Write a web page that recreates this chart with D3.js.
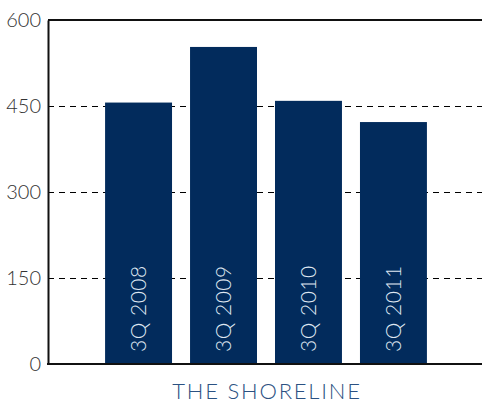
<!DOCTYPE html>
<html><head><meta charset="utf-8">
<script src="https://cdn.jsdelivr.net/npm/d3@7"></script>
<style>body{margin:0;background:#fff}svg{display:block}</style>
</head><body><svg id="c" width="482" height="404"></svg>
<script>
const categories = ["3Q 2008","3Q 2009","3Q 2010","3Q 2011"];
const values = [456, 553, 459, 422];
const yTicks = [0,150,300,450,600];
const title = "THE SHORELINE";

(function(){
const svg = d3.select("#c");
const mL = 48, mR = 482, mT = 20, mB = 364;
const x = d3.scaleBand().domain(categories).range([mL+1, mR+1]).paddingInner(0.212).paddingOuter(0.66);
const y = d3.scaleLinear().domain([0,600]).range([mB, mT]);

// gridlines
svg.append("g").selectAll("line").data(yTicks.filter(t=>t>0 && t<600)).join("line")
  .attr("x1", mL).attr("x2", mR)
  .attr("y1", d=>y(d)+0.5).attr("y2", d=>y(d)+0.5)
  .attr("stroke","#000").attr("stroke-width",1).attr("stroke-dasharray","6,5");

// top border
svg.append("line").attr("x1",mL).attr("x2",mR).attr("y1",y(600)).attr("y2",y(600))
  .attr("stroke","#111").attr("stroke-width",2);

// bars
svg.append("g").selectAll("rect").data(categories).join("rect")
  .attr("x", d=>x(d)).attr("width", x.bandwidth())
  .attr("y", (d,i)=>y(values[i])).attr("height",(d,i)=>y(0)-y(values[i]))
  .attr("fill","#022b5c");

// bar labels
svg.append("g").selectAll("text").data(categories).join("text")
  .attr("transform", d=>`translate(${x(d)+x.bandwidth()/2+7.5},${y(0)-12}) rotate(-90)`)
  .attr("font-family","Lato").attr("font-weight",300).attr("font-size",21).attr("letter-spacing",0.5)
  .attr("fill","#dfe7f1").text(d=>d);

// axes
const yAxis = d3.axisLeft(y).tickValues(yTicks).tickSize(0).tickPadding(7);
const gy = svg.append("g").attr("transform",`translate(${mL},0)`).call(yAxis);
gy.select(".domain").attr("stroke","#111").attr("stroke-width",2);
gy.selectAll("text").attr("font-family","Lato").attr("font-weight",300).attr("font-size",20).attr("fill","#333");

svg.append("line").attr("x1",mL-1).attr("x2",mR).attr("y1",y(0)).attr("y2",y(0))
  .attr("stroke","#111").attr("stroke-width",2);

svg.append("text").attr("x",(mL+mR)/2+2).attr("y",399)
  .attr("text-anchor","middle").attr("font-family","Lato").attr("font-weight",300).attr("font-size",22)
  .attr("letter-spacing",1.8)
  .attr("fill","#2b5182").text(title);
})();
</script></body></html>
